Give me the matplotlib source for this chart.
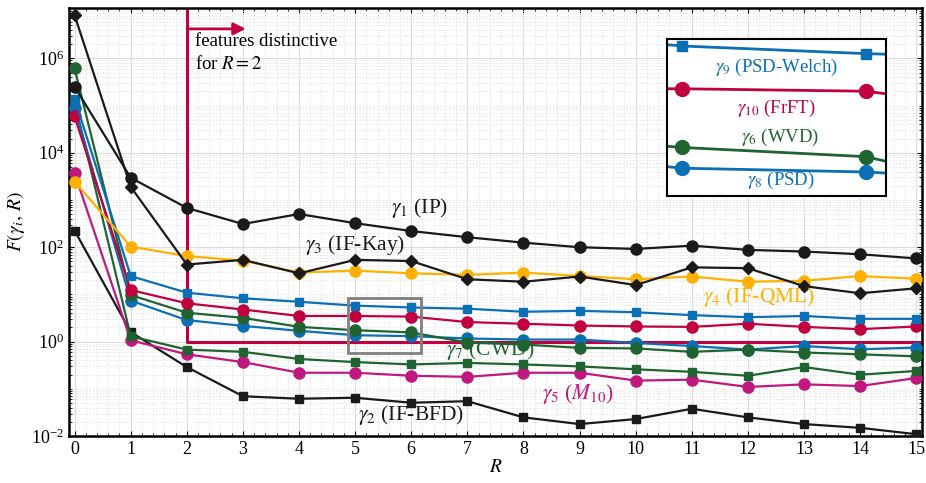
import matplotlib
matplotlib.use("Agg")
import matplotlib.pyplot as plt
from matplotlib.ticker import LogLocator, MultipleLocator, NullFormatter
from matplotlib.patches import Rectangle

plt.rcParams['font.family'] = ['Liberation Serif', 'DejaVu Serif']
plt.rcParams['mathtext.fontset'] = 'stix'

R = list(range(16))

# F(gamma_i, R)
ip = [2.5e5, 2960, 680, 310, 505, 323, 220, 163, 125, 100, 92, 108, 88, 81, 71, 58]
if_kay = [8.2e6, 1900, 43, 54, 28, 54, 51, 21, 18.6, 24, 15.8, 37.5, 36, 15, 10.6, 13.5]
if_qml = [2460, 103, 65, 52, 29, 32, 28, 26, 29, 24.6, 21, 24, 18.6, 19.5, 24.5, 21.5]
psd_welch = [1.4e5, 24.5, 10.9, 8.3, 7.0, 5.8, 5.3, 5.0, 4.3, 4.5, 4.2, 3.65, 3.3, 3.5, 3.05, 3.05]
frft = [5.9e4, 12.4, 6.5, 4.8, 3.5, 3.5, 3.4, 2.6, 2.4, 2.2, 2.1, 2.06, 2.4, 2.06, 1.84, 2.1]
wvd = [6.1e5, 9.7, 4.1, 3.2, 2.06, 1.75, 1.57, 0.96, 0.87, 0.74, 0.72, 0.61, 0.68, 0.59, 0.54, 0.49]
psd = [8.9e4, 7.4, 2.86, 2.16, 1.7, 1.37, 1.31, 1.17, 1.11, 1.11, 0.94, 0.81, 0.68, 0.81, 0.69, 0.75]
cwd = [1.2e5, 1.3, 0.68, 0.61, 0.43, 0.37, 0.33, 0.355, 0.33, 0.30, 0.26, 0.23, 0.19, 0.29, 0.20, 0.24]
m10 = [3700, 1.07, 0.54, 0.37, 0.22, 0.22, 0.19, 0.18, 0.22, 0.22, 0.15, 0.157, 0.11, 0.125, 0.115, 0.17]
if_bfd = [225, 1.6, 0.29, 0.070, 0.062, 0.065, 0.051, 0.055, 0.025, 0.018, 0.023, 0.038, 0.025, 0.018, 0.015, 0.011]

BLACK = '#1a1a1a'
BLUE = '#0a6fb5'
RED = '#c0003f'
GREEN = '#1f6430'
YELLOW = '#ffb000'
MAGENTA = '#c0187f'

series = [
    (if_bfd, BLACK, 's', 6),
    (m10, MAGENTA, 'o', 8),
    (cwd, GREEN, 's', 6),
    (psd, BLUE, 'o', 8),
    (wvd, GREEN, 'o', 8),
    (frft, RED, 'o', 8),
    (psd_welch, BLUE, 's', 6),
    (if_qml, YELLOW, 'o', 8),
    (if_kay, BLACK, 'D', 6),
    (ip, BLACK, 'o', 8),
]

fig = plt.figure(figsize=(9.26, 4.83), dpi=100)
ax = fig.add_axes([0.0745, 0.097, 0.921, 0.886])

for vals, c, m, ms in series:
    ax.plot(R, vals, color=c, marker=m, markersize=ms, lw=1.6, zorder=3)

ax.set_yscale('log')
ax.set_xlim(-0.1, 15.1)
ax.set_ylim(1e-2, 1.15e7)
ax.xaxis.set_major_locator(MultipleLocator(1))
ax.xaxis.set_minor_locator(MultipleLocator(0.2))
ax.yaxis.set_minor_locator(LogLocator(base=10, subs=range(1, 10), numticks=50))
ax.yaxis.set_minor_formatter(NullFormatter())
ax.set_yticks([1e-2, 1, 1e2, 1e4, 1e6])
ax.grid(True, which='major', color='#dddddd', lw=0.8)
ax.grid(True, which='minor', color='#e4e4e4', lw=0.6, ls=(0, (2, 2)))
ax.tick_params(which='both', direction='in', top=True, right=True, labelsize=13)
for s in ax.spines.values():
    s.set_linewidth(1.8)

ax.set_xlabel('$R$', fontsize=14, labelpad=1)
ax.set_ylabel(r'$F(\gamma_i,\, R)$', fontsize=14, labelpad=3)

# features distinctive region
ax.plot([2, 2, 15.1], [1.15e7, 1, 1], color=RED, lw=2.2, zorder=2)
ax.annotate('', xy=(3.1, 4.2e6), xytext=(2, 4.2e6),
            arrowprops=dict(arrowstyle='-|>', color=RED, lw=2, mutation_scale=18))
ax.text(2.15, 1.3e6, 'features distinctive\nfor $R=2$', fontsize=13.5, va='center', ha='left',
        linespacing=1.35)

# curve labels
ax.text(6.15, 680, r'$\gamma_1$ (IP)', fontsize=15.5, color=BLACK, ha='center', va='center')
ax.text(5.0, 112, r'$\gamma_3$ (IF-Kay)', fontsize=15.5, color=BLACK, ha='center', va='center')
ax.text(12.2, 8.8, r'$\gamma_4$ (IF-QML)', fontsize=15.5, color=YELLOW, ha='center', va='center')
ax.text(7.4, 0.66, r'$\gamma_7$ (CWD)', fontsize=15.5, color=GREEN, ha='center', va='center')
ax.text(8.98, 0.077, r'$\gamma_5$ ($M_{10}$)', fontsize=15.5, color=MAGENTA, ha='center', va='center')
ax.text(6.0, 0.028, r'$\gamma_2$ (IF-BFD)', fontsize=15.5, color=BLACK, ha='center', va='center')

# zoom box
ax.add_patch(Rectangle((4.87, 0.58), 1.31, 8.5 - 0.58, fill=False, ec='#808080', lw=2, zorder=4))

# inset
ins = fig.add_axes([666.7 / 926, 1 - 195.7 / 483, 219 / 926, 156.7 / 483])
for vals, c, m, ms in [(psd_welch, BLUE, 's', 7), (frft, RED, 'o', 10),
                       (wvd, GREEN, 'o', 10), (psd, BLUE, 'o', 10)]:
    ins.plot(R, vals, color=c, marker=m, markersize=ms, lw=2)
ins.set_yscale('log')
ins.set_xlim(4.915, 6.11)
ins.set_ylim(0.99, 6.3)
ins.set_xticks([])
ins.set_yticks([])
ins.minorticks_off()
ins.set_facecolor('white')
for s in ins.spines.values():
    s.set_linewidth(1.5)
ins.text(0.5, 0.82, r'$\gamma_9$ (PSD-Welch)', transform=ins.transAxes, fontsize=13.5, color=BLUE, ha='center', va='center')
ins.text(0.5, 0.56, r'$\gamma_{10}$ (FrFT)', transform=ins.transAxes, fontsize=13.5, color=RED, ha='center', va='center')
ins.text(0.52, 0.37, r'$\gamma_6$ (WVD)', transform=ins.transAxes, fontsize=13.5, color=GREEN, ha='center', va='center')
ins.text(0.52, 0.10, r'$\gamma_8$ (PSD)', transform=ins.transAxes, fontsize=13.5, color=BLUE, ha='center', va='center')

fig.savefig('out.png', dpi=100)
